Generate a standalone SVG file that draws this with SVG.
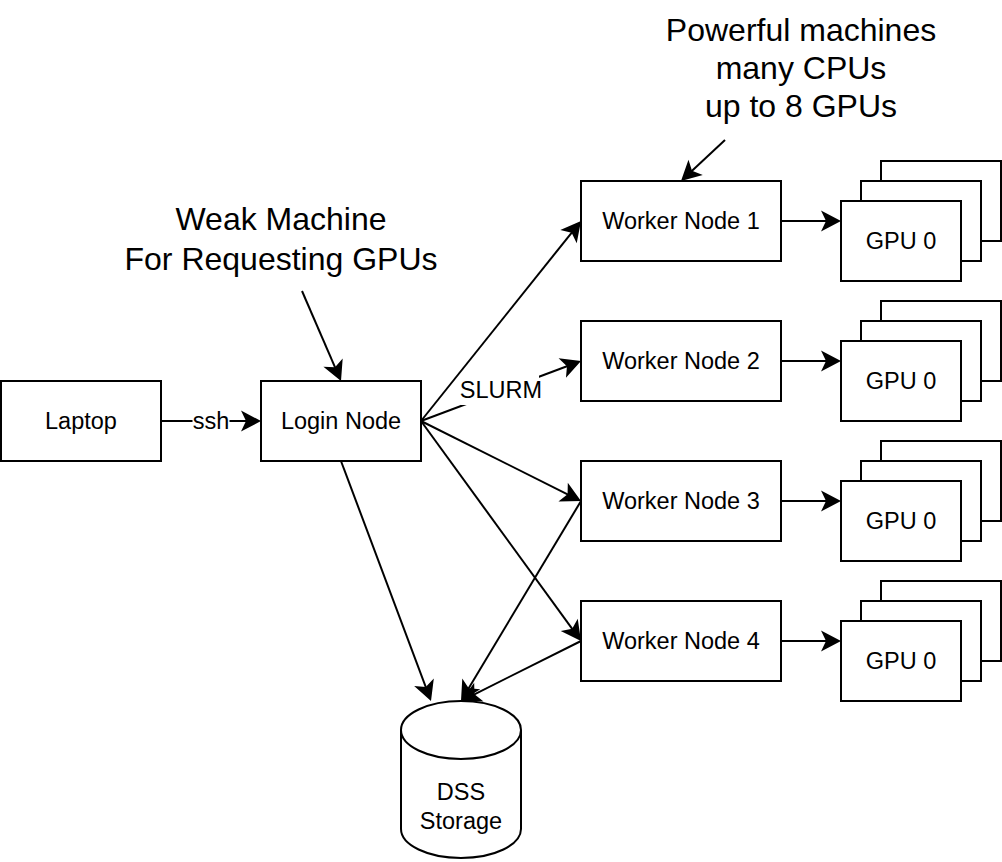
<svg xmlns="http://www.w3.org/2000/svg" width="1002" height="862" viewBox="0 0 1002 862">
<style>
  .box { fill: #ffffff; stroke: #000000; stroke-width: 2; }
  .edge { fill: none; stroke: #000000; stroke-width: 2; }
  .lbl { font-family: "Liberation Sans", Arial, Helvetica, sans-serif; font-size: 23.5px; fill: #000000; text-anchor: middle; }
  .note { font-family: "Liberation Sans", Arial, Helvetica, sans-serif; font-size: 32px; fill: #000000; text-anchor: middle; }
</style>
<defs>
  <marker id="arrow" markerUnits="userSpaceOnUse" markerWidth="24" markerHeight="24" viewBox="-12 -12 24 24" refX="0" refY="0" orient="auto">
    <path d="M10,0 L-10,-10.5 L-5,0 L-10,10.5 Z" fill="#000000" stroke="none"/>
  </marker>
</defs>
<rect width="1002" height="862" fill="#ffffff"/>

<g id="connectors">
  <line class="edge" x1="161" y1="421" x2="251" y2="421" marker-end="url(#arrow)"/>
  <line class="edge" x1="421" y1="421" x2="574.75" y2="228.81" marker-end="url(#arrow)"/>
  <line class="edge" x1="421" y1="421" x2="571.64" y2="364.51" marker-end="url(#arrow)"/>
  <line class="edge" x1="421" y1="421" x2="572.06" y2="496.53" marker-end="url(#arrow)"/>
  <line class="edge" x1="421" y1="421" x2="575.12" y2="632.91" marker-end="url(#arrow)"/>
  <line class="edge" x1="341" y1="461" x2="427.49" y2="691.64" marker-end="url(#arrow)"/>
  <line class="edge" x1="581" y1="501" x2="466.14" y2="692.43" marker-end="url(#arrow)"/>
  <line class="edge" x1="581" y1="641" x2="469.94" y2="696.53" marker-end="url(#arrow)"/>
  <line class="edge" x1="781" y1="221" x2="831" y2="221" marker-end="url(#arrow)"/>
  <line class="edge" x1="781" y1="361" x2="831" y2="361" marker-end="url(#arrow)"/>
  <line class="edge" x1="781" y1="501" x2="831" y2="501" marker-end="url(#arrow)"/>
  <line class="edge" x1="781" y1="641" x2="831" y2="641" marker-end="url(#arrow)"/>
  <line class="edge" x1="725" y1="140" x2="688.32" y2="174.18" marker-end="url(#arrow)"/>
  <line class="edge" x1="302" y1="291" x2="337.02" y2="371.83" marker-end="url(#arrow)"/>
  <g id="label-ssh">
    <rect x="192.5" y="407" width="37" height="28" fill="#ffffff"/>
    <text class="lbl" x="211" y="428.5">ssh</text>
  </g>
  <g id="label-slurm">
    <rect x="461" y="375" width="78" height="30" fill="#ffffff"/>
    <text class="lbl" x="501" y="397.5">SLURM</text>
  </g>
</g>

<g id="laptop">
  <rect class="box" x="1" y="381" width="160" height="80"/>
  <text class="lbl" x="81" y="428.5">Laptop</text>
</g>
<g id="login-node">
  <rect class="box" x="261" y="381" width="160" height="80"/>
  <text class="lbl" x="341" y="428.5">Login Node</text>
</g>

<g id="worker-node-1">
  <rect class="box" x="581" y="181" width="200" height="80"/>
  <text class="lbl" x="681" y="228.5">Worker Node 1</text>
</g>
<g id="worker-node-2">
  <rect class="box" x="581" y="321" width="200" height="80"/>
  <text class="lbl" x="681" y="368.5">Worker Node 2</text>
</g>
<g id="worker-node-3">
  <rect class="box" x="581" y="461" width="200" height="80"/>
  <text class="lbl" x="681" y="508.5">Worker Node 3</text>
</g>
<g id="worker-node-4">
  <rect class="box" x="581" y="601" width="200" height="80"/>
  <text class="lbl" x="681" y="648.5">Worker Node 4</text>
</g>

<g id="gpu-stack-1">
  <rect class="box" x="881" y="161" width="120" height="80"/>
  <rect class="box" x="861" y="181" width="120" height="80"/>
  <rect class="box" x="841" y="201" width="120" height="80"/>
  <text class="lbl" x="901" y="248.5">GPU 0</text>
</g>
<g id="gpu-stack-2">
  <rect class="box" x="881" y="301" width="120" height="80"/>
  <rect class="box" x="861" y="321" width="120" height="80"/>
  <rect class="box" x="841" y="341" width="120" height="80"/>
  <text class="lbl" x="901" y="388.5">GPU 0</text>
</g>
<g id="gpu-stack-3">
  <rect class="box" x="881" y="441" width="120" height="80"/>
  <rect class="box" x="861" y="461" width="120" height="80"/>
  <rect class="box" x="841" y="481" width="120" height="80"/>
  <text class="lbl" x="901" y="528.5">GPU 0</text>
</g>
<g id="gpu-stack-4">
  <rect class="box" x="881" y="581" width="120" height="80"/>
  <rect class="box" x="861" y="601" width="120" height="80"/>
  <rect class="box" x="841" y="621" width="120" height="80"/>
  <text class="lbl" x="901" y="668.5">GPU 0</text>
</g>

<g id="dss-storage">
  <path class="box" d="M401,730 A60,29 0 0 1 521,730 L521,829 A60,29 0 0 1 401,829 Z"/>
  <path class="edge" d="M401,730 A60,29 0 0 0 521,730"/>
  <text class="lbl" x="461" y="800">DSS</text>
  <text class="lbl" x="461" y="828.5">Storage</text>
</g>

<g id="note-weak-machine">
  <text class="note" x="281" y="230">Weak Machine</text>
  <text class="note" x="281" y="270">For Requesting GPUs</text>
</g>
<g id="note-powerful-machines">
  <text class="note" x="801" y="41">Powerful machines</text>
  <text class="note" x="801" y="79">many CPUs</text>
  <text class="note" x="801" y="117">up to 8 GPUs</text>
</g>
</svg>
